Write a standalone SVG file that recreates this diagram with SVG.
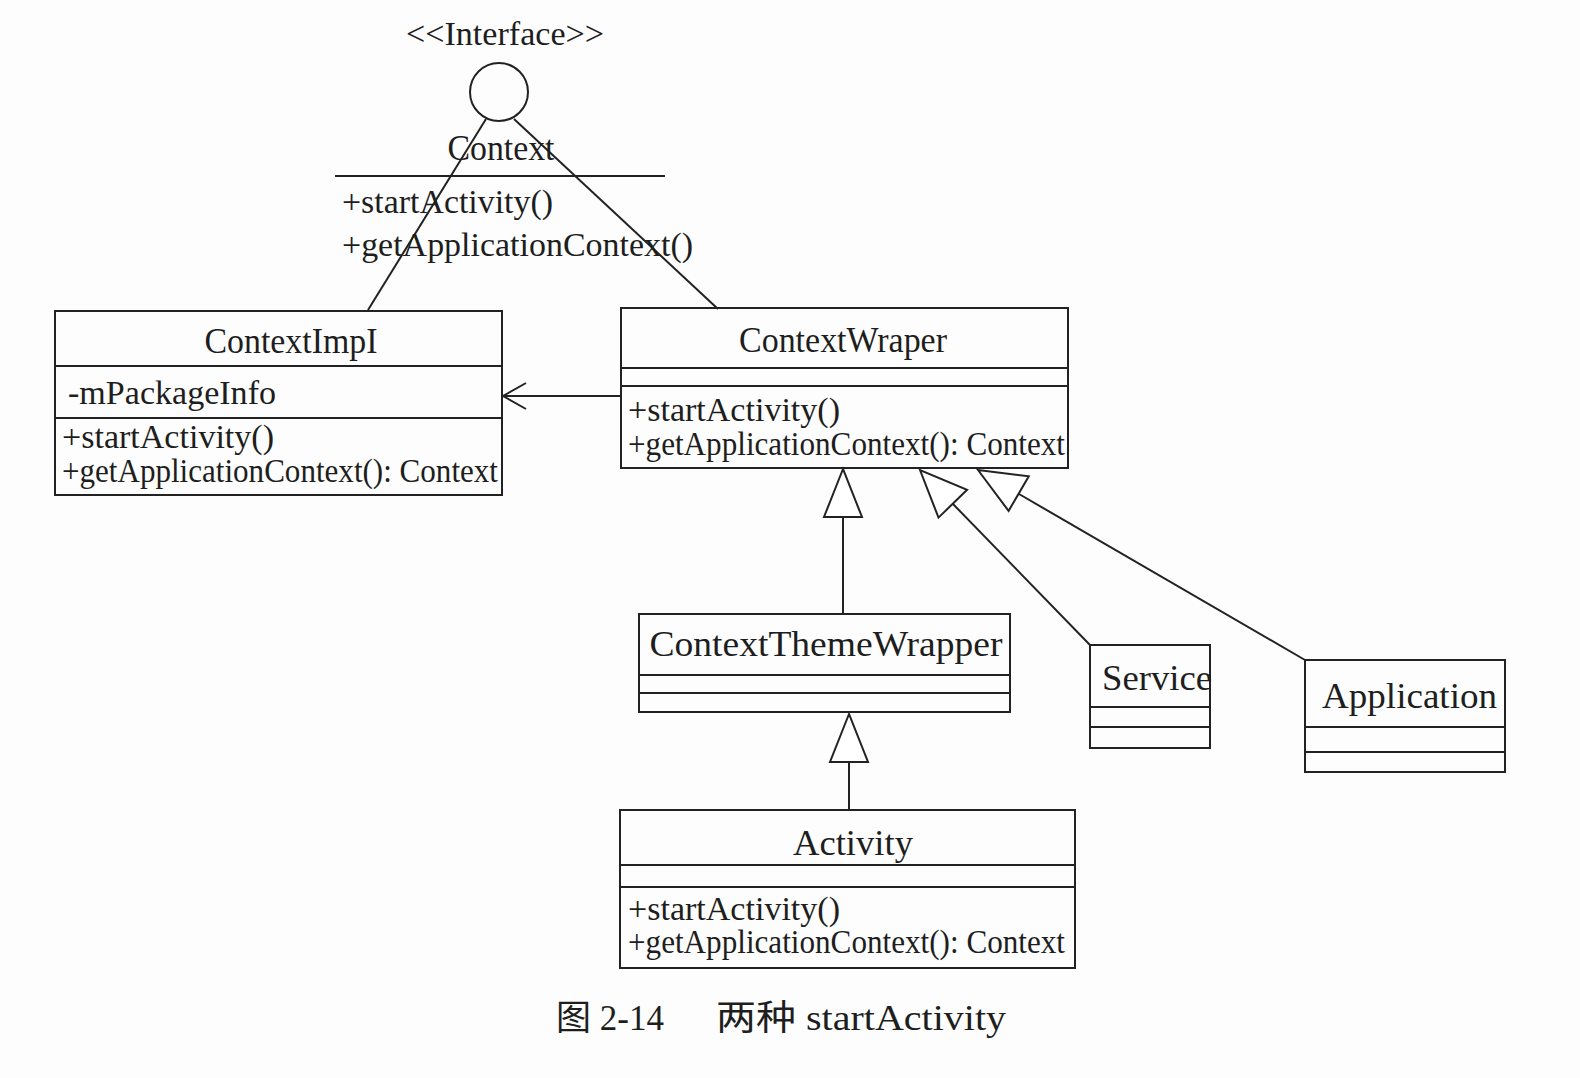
<svg xmlns="http://www.w3.org/2000/svg" width="1580" height="1078" viewBox="0 0 1580 1078">
<style>
.box{fill:none;stroke:#222;stroke-width:2}
.ln{fill:none;stroke:#222;stroke-width:2}
.tri{fill:#fff;stroke:#222;stroke-width:2}
text{font-family:"Liberation Serif","Noto Sans CJK SC",serif;fill:#1e1e1e}
.t{font-size:35px}
.m{font-size:33px}
.mid{text-anchor:middle}
</style>
<rect width="1580" height="1078" fill="#fdfdfd"/>
<g id="connectors">
<line class="ln" x1="486" y1="119" x2="368" y2="310"/>
<line class="ln" x1="514" y1="119" x2="718" y2="309"/>
<line class="ln" x1="621" y1="396" x2="503" y2="396"/>
<polyline class="ln" points="526,383 503,396 526,409"/>
<line class="ln" x1="843" y1="517" x2="843" y2="614"/>
<polygon class="tri" points="843,469 824,517 862,517"/>
<line class="ln" x1="953" y1="504" x2="1090" y2="645"/>
<polygon class="tri" points="920,470 938.5,517.6 967.1,489.8"/>
<line class="ln" x1="1019" y1="494" x2="1305" y2="660"/>
<polygon class="tri" points="978,470 1008.6,510.9 1028.8,476.3"/>
<line class="ln" x1="849" y1="762" x2="849" y2="810"/>
<polygon class="tri" points="849,714 830,762 868,762"/>
</g>
<g id="Context">
<text class="m mid" x="505" y="45" textLength="198" lengthAdjust="spacingAndGlyphs">&lt;&lt;Interface&gt;&gt;</text>
<circle class="box" cx="499" cy="92" r="29"/>
<text class="t mid" x="501" y="160" textLength="107" lengthAdjust="spacingAndGlyphs">Context</text>
<line class="ln" x1="335" y1="176" x2="665" y2="176"/>
<text class="m" x="342" y="213" textLength="211" lengthAdjust="spacingAndGlyphs">+startActivity()</text>
<text class="m" x="342" y="256" textLength="351" lengthAdjust="spacingAndGlyphs">+getApplicationContext()</text>
</g>
<g id="ContextImpl">
<rect class="box" x="55" y="311" width="447" height="184"/>
<line class="ln" x1="55" y1="366" x2="502" y2="366"/>
<line class="ln" x1="55" y1="418" x2="502" y2="418"/>
<text class="t mid" x="291" y="353" textLength="173" lengthAdjust="spacingAndGlyphs">ContextImpI</text>
<text class="m" x="68" y="404" textLength="208" lengthAdjust="spacingAndGlyphs">-mPackageInfo</text>
<text class="m" x="62" y="448" textLength="212" lengthAdjust="spacingAndGlyphs">+startActivity()</text>
<text class="m" x="62" y="482" textLength="436" lengthAdjust="spacingAndGlyphs">+getApplicationContext(): Context</text>
</g>
<g id="ContextWrapper">
<rect class="box" x="621" y="308" width="447" height="160"/>
<line class="ln" x1="621" y1="368" x2="1068" y2="368"/>
<line class="ln" x1="621" y1="386" x2="1068" y2="386"/>
<text class="t mid" x="843" y="352" textLength="208" lengthAdjust="spacingAndGlyphs">ContextWraper</text>
<text class="m" x="628" y="421" textLength="212" lengthAdjust="spacingAndGlyphs">+startActivity()</text>
<text class="m" x="628" y="455" textLength="437" lengthAdjust="spacingAndGlyphs">+getApplicationContext(): Context</text>
</g>
<g id="ContextThemeWrapper">
<rect class="box" x="639" y="614" width="371" height="98"/>
<line class="ln" x1="639" y1="675" x2="1010" y2="675"/>
<line class="ln" x1="639" y1="693" x2="1010" y2="693"/>
<text class="t mid" x="826" y="656" textLength="353" lengthAdjust="spacingAndGlyphs">ContextThemeWrapper</text>
</g>
<g id="Service">
<rect class="box" x="1090" y="645" width="120" height="103"/>
<line class="ln" x1="1090" y1="707" x2="1210" y2="707"/>
<line class="ln" x1="1090" y1="727" x2="1210" y2="727"/>
<text class="t" x="1102" y="690" textLength="110" lengthAdjust="spacingAndGlyphs">Service</text>
</g>
<g id="Application">
<rect class="box" x="1305" y="660" width="200" height="112"/>
<line class="ln" x1="1305" y1="727" x2="1505" y2="727"/>
<line class="ln" x1="1305" y1="752" x2="1505" y2="752"/>
<text class="t" x="1322" y="708" textLength="175" lengthAdjust="spacingAndGlyphs">Application</text>
</g>
<g id="Activity">
<rect class="box" x="620" y="810" width="455" height="158"/>
<line class="ln" x1="620" y1="865" x2="1075" y2="865"/>
<line class="ln" x1="620" y1="887" x2="1075" y2="887"/>
<text class="t mid" x="853" y="855" textLength="120" lengthAdjust="spacingAndGlyphs">Activity</text>
<text class="m" x="628" y="920" textLength="212" lengthAdjust="spacingAndGlyphs">+startActivity()</text>
<text class="m" x="628" y="953" textLength="437" lengthAdjust="spacingAndGlyphs">+getApplicationContext(): Context</text>
</g>
<g id="caption">
<text class="t" x="556" y="1030">图 2-14</text>
<text class="t" x="716" y="1030" textLength="290" lengthAdjust="spacingAndGlyphs">两种 startActivity</text>
</g>
</svg>
